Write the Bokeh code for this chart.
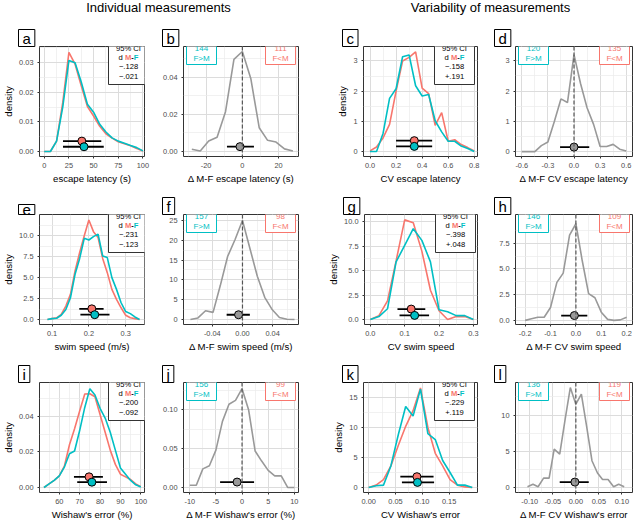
from bokeh.plotting import figure
from bokeh.layouts import column, row
from bokeh.models import (Range1d, FixedTicker, CustomJSTickFormatter, Label,
                          BoxAnnotation, Span, Title)
from bokeh.core.properties import value
from bokeh.embed import file_html
from bokeh.resources import INLINE

FONT = "Liberation Sans"
RED = "#F8766D"    # M
TEAL = "#00BFC4"   # F
GREY = "#999999"

titles = ["Individual measurements", "Variability of measurements"]
letters = ["a", "b", "c", "d", "e", "f", "g", "h", "i", "j", "k", "l"]

# ---------------- row 1: escape latency ----------------
a_x = [0, 6.25, 12.5, 18.75, 25, 31.25, 37.5, 43.75, 50, 56.25, 62.5, 68.75, 75, 81.25, 87.5, 93.75, 100]
a_m = [0, 0, 0.0035, 0.0165, 0.0335, 0.0295, 0.0222, 0.0152, 0.0120, 0.0085, 0.0060, 0.0045, 0.0033, 0.0026, 0.0019, 0.0010, 0.0002]
a_f = [0, 0, 0.0035, 0.0150, 0.0308, 0.0300, 0.0235, 0.0160, 0.0133, 0.0092, 0.0066, 0.0046, 0.0035, 0.0028, 0.0020, 0.0013, 0.0002]
a_ci = dict(mean=[38.1, 40.3], lo=[19.0, 19.0], hi=[57.8, 60.3], y=[0.0035, 0.0016])
a_stat = ["\u2212.128", "\u2212.021"]

b_x = [-27.9, -23.25, -18.6, -13.95, -9.3, -4.65, 0, 4.65, 9.3, 13.95, 18.6, 23.25, 27.9]
b_y = [0.0012, 0.0003, 0.0056, 0.0077, 0.0214, 0.0496, 0.0538, 0.0393, 0.0128, 0.0060, 0.0051, 0.0014, 0.0003]
b_ci = dict(mean=[-1.3], lo=[-8.5], hi=[6.4], y=[0.0026])
b_counts = [144, 111]

c_x = [0.0, 0.05, 0.1, 0.15, 0.2, 0.25, 0.3, 0.35, 0.4, 0.45, 0.5, 0.55, 0.6, 0.65, 0.7, 0.75, 0.8]
c_m = [0.02, 0.15, 0.45, 0.9, 2.0, 3.0, 3.12, 3.3, 2.1, 1.92, 0.87, 1.29, 0.34, 0.39, 0.23, 0.13, 0.02]
c_f = [0.0, 0.0, 0.6, 1.76, 2.08, 3.14, 3.2, 2.18, 1.84, 1.89, 1.02, 0.65, 0.34, 0.34, 0.18, 0.1, 0.0]
c_ci = dict(mean=[0.34, 0.34], lo=[0.2, 0.2], hi=[0.477, 0.477], y=[0.36, 0.17])
c_stat = ["\u2212.158", "+.191"]

d_x = [-0.6, -0.525, -0.45, -0.375, -0.3, -0.225, -0.15, -0.075, 0.0, 0.075, 0.15, 0.225, 0.3, 0.375, 0.45, 0.525, 0.6]
d_y = [0.0, 0.0, 0.0, 0.2, 0.32, 1.0, 1.74, 1.62, 3.2, 2.25, 1.45, 0.9, 0.17, 0.17, 0.24, 0.08, 0.02]
d_ci = dict(mean=[0.0], lo=[-0.16], hi=[0.175], y=[0.15])
d_counts = [120, 135]

# ---------------- row 2: swim speed ----------------
e_x = [0.0875, 0.1, 0.1125, 0.125, 0.1375, 0.15, 0.1625, 0.175, 0.1875, 0.2, 0.2125,
       0.225, 0.2375, 0.25, 0.2625, 0.275, 0.2875, 0.3, 0.3125, 0.325, 0.3375]
e_m = [0.0, 0.1, 0.2, 0.6, 1.6, 3.0, 5.8, 8.0, 10.0, 11.9, 10.5, 9.8, 7.3, 5.6, 3.6, 2.4, 1.4, 0.5, 0.2, 0.1, 0.0]
e_f = [0.0, 0.1, 0.15, 0.5, 1.2, 2.6, 5.4, 7.3, 9.7, 9.5, 9.9, 10.2, 7.6, 7.4, 5.0, 3.6, 2.0, 0.95, 0.7, 0.3, 0.0]
e_ci = dict(mean=[0.208, 0.216], lo=[0.174, 0.177], hi=[0.24, 0.256], y=[1.27, 0.57])
e_stat = ["\u2212.231", "\u2212.123"]

f_x = [-0.069, -0.059, -0.049, -0.039, -0.0295, -0.0197, -0.0098, 0.0, 0.0098, 0.0197, 0.0295, 0.039, 0.049, 0.059, 0.069]
f_y = [0.0, 0.4, 2.2, 1.8, 8.5, 15.9, 20.2, 25.0, 18.0, 10.9, 5.6, 2.6, 0.5, 0.05, 0.0]
f_ci = dict(mean=[-0.0052], lo=[-0.021], hi=[0.0098], y=[1.2])
f_counts = [157, 98]

g_x = [0.0, 0.025, 0.05, 0.075, 0.1, 0.125, 0.15, 0.175, 0.2, 0.225, 0.25, 0.275, 0.3]
g_m = [0.0, 0.4, 1.9, 6.0, 10.2, 9.9, 7.0, 3.0, 0.9, 0.0, 0.3, 0.3, 0.0]
g_f = [0.0, 0.3, 1.1, 5.9, 7.6, 9.3, 8.1, 5.9, 1.0, 0.8, 0.4, 0.4, 0.0]
g_ci = dict(mean=[0.119, 0.129], lo=[0.079, 0.085], hi=[0.16, 0.171], y=[1.07, 0.42])
g_stat = ["\u2212.398", "+.048"]

h_x = [-0.2, -0.175, -0.15, -0.125, -0.1, -0.075, -0.05, -0.025, 0.0, 0.025, 0.05, 0.075, 0.1, 0.125, 0.15, 0.175, 0.2]
h_y = [0.0, 0.15, 0.3, 0.3, 1.25, 3.7, 4.6, 8.3, 9.4, 5.8, 2.6, 2.2, 0.8, 0.1, 0.0, 0.05, 0.3]
h_ci = dict(mean=[-0.006], lo=[-0.058], hi=[0.045], y=[0.47])
h_counts = [146, 109]

# ---------------- row 3: Wishaw's error ----------------
i_x = [52.5, 55, 57.5, 60, 62.5, 65, 67.5, 70, 72.5, 75, 77.5, 80, 82.5, 85, 87.5, 90, 92.5, 95, 97.5, 100]
i_m = [0.0, 0.002, 0.004, 0.0065, 0.012, 0.024, 0.033, 0.043, 0.0525, 0.0527, 0.051, 0.041, 0.031, 0.021, 0.013, 0.0075, 0.006, 0.0045, 0.002, 0.0005]
i_f = [0.0, 0.002, 0.004, 0.0065, 0.0115, 0.019, 0.0205, 0.032, 0.045, 0.0555, 0.052, 0.0445, 0.039, 0.031, 0.021, 0.011, 0.0075, 0.004, 0.0015, 0.0003]
i_ci = dict(mean=[74.6, 76.0], lo=[67.2, 68.8], hi=[81.4, 83.4], y=[0.006, 0.003])
i_stat = ["\u2212.200", "\u2212.092"]

j_x = [-10, -8.75, -7.5, -6.25, -5, -3.75, -2.5, -1.25, 0, 1.25, 2.5, 3.75, 5, 6.25, 7.5, 8.75, 10]
j_y = [0.003, 0.003, 0.024, 0.028, 0.048, 0.085, 0.107, 0.112, 0.127, 0.100, 0.047, 0.034, 0.022, 0.015, 0.015, 0.0, 0.0]
j_ci = dict(mean=[-0.95], lo=[-4.2], hi=[2.3], y=[0.007])
j_counts = [156, 99]

k_x = [0.0, 0.0138, 0.0276, 0.0414, 0.0552, 0.069, 0.0828, 0.0966, 0.1104, 0.1242, 0.138, 0.1518, 0.1656, 0.1794, 0.1932]
k_m = [0.0, 0.4, 1.3, 3.6, 7.0, 10.2, 12.8, 16.6, 10.0, 5.7, 3.6, 1.3, 0.4, 0.1, 0.0]
k_f = [0.0, 0.3, 0.4, 3.6, 8.8, 13.5, 11.9, 16.4, 9.0, 8.0, 4.5, 2.5, 0.4, 0.4, 0.0]
k_ci = dict(mean=[0.09, 0.091], lo=[0.059, 0.062], hi=[0.121, 0.122], y=[1.8, 0.85])
k_stat = ["\u2212.229", "+.119"]

l_x = [-0.105, -0.093, -0.082, -0.070, -0.058, -0.047, -0.035, -0.023, -0.012, 0.0,
       0.012, 0.023, 0.035, 0.047, 0.058, 0.070, 0.082, 0.093, 0.105]
l_y = [0.1, 0.45, 0.1, 1.3, 1.3, 5.3, 4.6, 9.5, 13.8, 11.5, 12.9, 8.6, 3.7, 2.0, 1.1, 1.1, 0.1, 0.45, 0.1]
l_ci = dict(mean=[-0.002], lo=[-0.035], hi=[0.028], y=[0.75])
l_counts = [136, 119]

# ---------------- axes ----------------
x_labels = ["escape latency (s)", "\u0394 M-F escape latency (s)", "CV escape latency", "\u0394 M-F CV escape latency",
            "swim speed (m/s)", "\u0394 M-F swim speed (m/s)", "CV swim speed", "\u0394 M-F CV swim speed",
            "Wishaw's error (%)", "\u0394 M-F Wishaw's error (%)", "CV Wishaw's error", "\u0394 M-F CV Wishaw's error"]

x_ranges = [(-4.8, 101.6), (-32.5, 31.0), (-0.05, 0.825), (-0.672, 0.672),
            (0.066, 0.351), (-0.0782, 0.0743), (-0.017, 0.312), (-0.238, 0.223),
            (50.3, 101.8), (-11.2, 10.8), (-0.0097, 0.203), (-0.131, 0.123)]
y_ranges = [(-0.0017, 0.0355), (-0.0027, 0.0565), (-0.165, 3.48), (-0.16, 3.47),
            (-0.6, 12.55), (-1.26, 26.5), (-0.51, 10.75), (-0.4, 10.3),
            (-0.0028, 0.059), (-0.0064, 0.135), (-0.83, 17.5), (-0.69, 14.5)]

x_ticks = [[0, 25, 50, 75, 100], [-20, 0, 20], [0.0, 0.2, 0.4, 0.6, 0.8], [-0.6, -0.3, 0.0, 0.3, 0.6],
           [0.1, 0.2, 0.3], [-0.04, 0.0, 0.04], [0.0, 0.1, 0.2, 0.3], [-0.2, -0.1, 0.0, 0.1, 0.2],
           [60, 70, 80, 90, 100], [-10, -5, 0, 5, 10], [0.0, 0.05, 0.10, 0.15], [-0.10, -0.05, 0.0, 0.05, 0.10]]
x_tick_labels = [["0", "25", "50", "75", "100"], ["-20", "0", "20"], ["0.0", "0.2", "0.4", "0.6", "0.8"],
                 ["-0.6", "-0.3", "0.0", "0.3", "0.6"], ["0.1", "0.2", "0.3"], ["-0.04", "0.00", "0.04"],
                 ["0.0", "0.1", "0.2", "0.3"], ["-0.2", "-0.1", "0.0", "0.1", "0.2"],
                 ["60", "70", "80", "90", "100"], ["-10", "-5", "0", "5", "10"],
                 ["0.00", "0.05", "0.10", "0.15"], ["-0.10", "-0.05", "0.00", "0.05", "0.10"]]
y_ticks = [[0, 0.01, 0.02, 0.03], [0, 0.02, 0.04], [0, 1, 2, 3], [0, 1, 2, 3],
           [0, 2.5, 5, 7.5, 10], [0, 5, 10, 15, 20, 25], [0, 2.5, 5, 7.5, 10], [0, 2.5, 5, 7.5],
           [0, 0.02, 0.04], [0, 0.05, 0.10], [0, 5, 10, 15], [0, 5, 10]]
y_tick_labels = [["0.00", "0.01", "0.02", "0.03"], ["0.00", "0.02", "0.04"], ["0", "1", "2", "3"], ["0", "1", "2", "3"],
                 ["0.0", "2.5", "5.0", "7.5", "10.0"], ["0", "5", "10", "15", "20", "25"],
                 ["0.0", "2.5", "5.0", "7.5", "10.0"], ["0.0", "2.5", "5.0", "7.5"],
                 ["0.00", "0.02", "0.04"], ["0.00", "0.05", "0.10"], ["0", "5", "10", "15"], ["0", "5", "10"]]

# ---------------- layout constants ----------------
HEAD_H = 18
ROW_H = 168
BT, BB = 28, 26
FH = ROW_H - BT - BB
COLS = [(160, 32, 16), (165, 23, 27), (165, 38, 13), (143, 25, 1)]
JS = "const i = tv.findIndex(t => Math.abs(t - tick) < 1e-9); return i >= 0 ? tl[i] : '';"


def minors(t):
    s = t[1] - t[0]
    return [t[0] - s / 2] + [v + s / 2 for v in t]


def add_text(p, x, y, text, size, color="black", align="center", bold=False, baseline="middle"):
    p.add_layout(Label(x=x, y=y, x_units="screen", y_units="screen", text=text,
                       text_font=FONT, text_font_size=f"{size}px", text_color=color,
                       text_align=align, text_baseline=baseline,
                       text_font_style="bold" if bold else "normal"))


def add_box(p, l, r, b, t, color):
    p.add_layout(BoxAnnotation(left=l, right=r, bottom=b, top=t,
                               left_units="screen", right_units="screen",
                               bottom_units="screen", top_units="screen",
                               fill_color="white", fill_alpha=1.0,
                               line_color=color, line_alpha=1.0, line_width=1))


def make_fig(idx):
    col = idx % 4
    w, bl, br = COLS[col]
    p = figure(width=w, height=ROW_H, x_range=Range1d(*x_ranges[idx]), y_range=Range1d(*y_ranges[idx]),
               output_backend="svg", toolbar_location=None,
               min_border_left=bl, min_border_right=br, min_border_top=BT, min_border_bottom=BB)
    p.outline_line_color = "#333333"
    p.outline_line_alpha = 1.0
    p.outline_line_width = 1
    p.background_fill_color = "white"
    p.border_fill_color = "white"
    for ax, t, tl in ((p.xaxis[0], x_ticks[idx], x_tick_labels[idx]),
                      (p.yaxis[0], y_ticks[idx], y_tick_labels[idx])):
        ax.ticker = FixedTicker(ticks=t, minor_ticks=minors(t))
        ax.formatter = CustomJSTickFormatter(args=dict(tv=t, tl=tl), code=JS)
        ax.axis_line_color = None
        ax.major_tick_in = 0
        ax.major_tick_out = 2
        ax.major_tick_line_color = "#333333"
        ax.minor_tick_line_color = None
        ax.major_label_text_font = FONT
        ax.major_label_text_font_size = "7.4px"
        ax.major_label_text_color = "#4d4d4d"
        ax.major_label_standoff = 2
        ax.axis_label_text_font = FONT
        ax.axis_label_text_font_size = "9.6px"
        ax.axis_label_text_font_style = "normal"
        ax.axis_label_text_color = "black"
        ax.axis_label_standoff = 2
    p.xaxis[0].axis_label = x_labels[idx]
    p.yaxis[0].axis_label = "density" if col in (0, 2) else None
    for g in (p.xgrid[0], p.ygrid[0]):
        g.grid_line_color = "#dcdcdc"
        g.grid_line_width = 1
        g.minor_grid_line_color = "#ebebeb"
        g.minor_grid_line_width = 0.7
    # panel letter as a boxed title above the frame
    t = p.title
    t.text = letters[idx]
    t.align = "left"
    t.offset = -21
    t.standoff = 0
    t.text_font = FONT
    t.text_font_size = "15px"
    t.text_font_style = "normal"
    t.text_color = "black"
    t.background_fill_color = "white"
    t.border_line_color = "black"
    t.border_line_width = 1
    try:
        t.padding = (4, 0)
    except Exception:
        pass
    fw = w - bl - br
    return p, fw


def paired(idx, x, m, f, ci, stat):
    p, fw = make_fig(idx)
    p.line(x, m, line_color=RED, line_width=1.6)
    p.line(x, f, line_color=TEAL, line_width=1.6)
    for k, c in ((0, RED), (1, TEAL)):
        p.segment(x0=[ci["lo"][k]], x1=[ci["hi"][k]], y0=[ci["y"][k]], y1=[ci["y"][k]],
                  line_color="black", line_width=1.8)
        p.scatter(x=[ci["mean"][k]], y=[ci["y"][k]], size=8, fill_color=c,
                  line_color="black", line_width=1)
    # stats box
    add_box(p, fw - 43, fw - 3, FH - 42, FH, "#333333")
    cx = fw - 23
    fs = 7.6
    add_text(p, cx, FH - 6, "95% CI", fs)
    x0 = cx - 9.9
    yl = FH - 15.2
    add_text(p, x0, yl, "d", fs, align="left")
    add_text(p, x0 + 6.34, yl, "M", fs, RED, "left", bold=True)
    add_text(p, x0 + 12.67, yl, "-", fs, "black", "left", bold=True)
    add_text(p, x0 + 15.2, yl, "F", fs, TEAL, "left", bold=True)
    add_text(p, cx, FH - 24.4, stat[0], fs)
    add_text(p, cx, FH - 33.6, stat[1], fs)
    return p


def delta(idx, x, y, ci, counts):
    p, fw = make_fig(idx)
    p.line(x, y, line_color=GREY, line_width=1.6)
    p.add_layout(Span(location=0, dimension="height", line_color="#555555",
                      line_dash="4 2", line_width=1.2, level="glyph"))
    p.segment(x0=ci["lo"], x1=ci["hi"], y0=ci["y"], y1=ci["y"], line_color="black", line_width=1.8)
    p.scatter(x=ci["mean"], y=ci["y"], size=8, fill_color=GREY, line_color="black", line_width=1)
    add_box(p, 3, 33, FH - 22, FH, TEAL)
    add_text(p, 18, FH - 6, str(counts[0]), 8, TEAL)
    add_text(p, 18, FH - 15.5, "F>M", 8, TEAL)
    add_box(p, fw - 33, fw - 3, FH - 22, FH, RED)
    add_text(p, fw - 18, FH - 6, str(counts[1]), 8, RED)
    add_text(p, fw - 18, FH - 15.5, "F<M", 8, RED)
    return p


# header
TOTAL_W = sum(c[0] for c in COLS)
head = figure(width=TOTAL_W, height=HEAD_H, x_range=Range1d(0, TOTAL_W), y_range=Range1d(0, HEAD_H),
              output_backend="svg", toolbar_location=None, min_border=0,
              x_axis_location=None, y_axis_location=None)
head.outline_line_color = None
head.xgrid.visible = False
head.ygrid.visible = False
head.text(x=[158, 490], y=[11.5, 11.5], text=titles, text_font=value(FONT), text_font_size="13px",
          text_align="center", text_baseline="middle", text_color="black")

pa = paired(0, a_x, a_m, a_f, a_ci, a_stat)
pb = delta(1, b_x, b_y, b_ci, b_counts)
pc = paired(2, c_x, c_m, c_f, c_ci, c_stat)
pd = delta(3, d_x, d_y, d_ci, d_counts)
pe = paired(4, e_x, e_m, e_f, e_ci, e_stat)
pf = delta(5, f_x, f_y, f_ci, f_counts)
pg = paired(6, g_x, g_m, g_f, g_ci, g_stat)
ph = delta(7, h_x, h_y, h_ci, h_counts)
pi = paired(8, i_x, i_m, i_f, i_ci, i_stat)
pj = delta(9, j_x, j_y, j_ci, j_counts)
pk = paired(10, k_x, k_m, k_f, k_ci, k_stat)
pl = delta(11, l_x, l_y, l_ci, l_counts)

layout = column(head, row(pa, pb, pc, pd), row(pe, pf, pg, ph), row(pi, pj, pk, pl), spacing=0)

open("out.html", "w").write(file_html(layout, INLINE))
